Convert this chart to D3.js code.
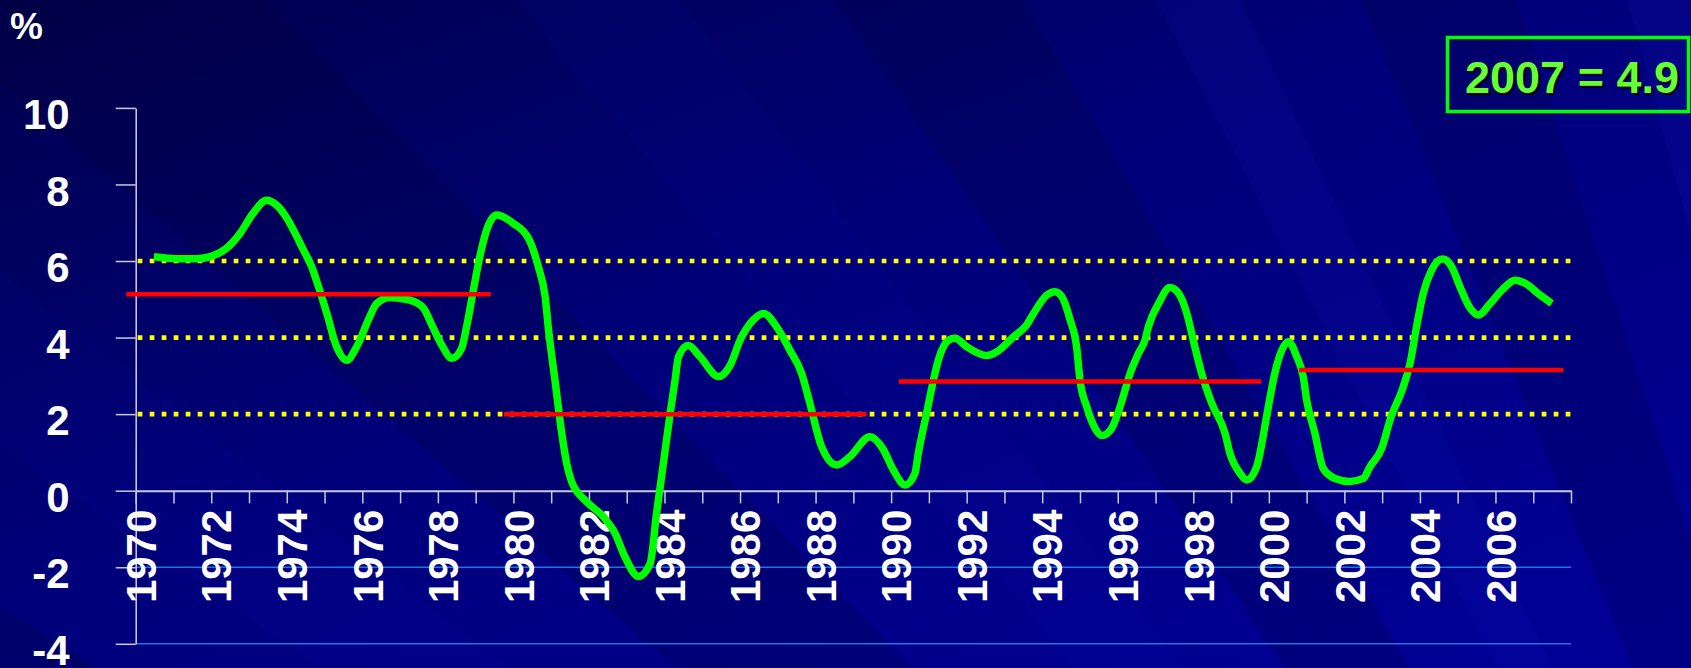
<!DOCTYPE html>
<html>
<head>
<meta charset="utf-8">
<script src="https://cdn.jsdelivr.net/npm/d3@7"></script>
<style>
	body { margin: 0; background: #000080; overflow: hidden; }
	svg { display: block; }
</style>
</head>
<body>
<svg id="chart"></svg>
<script>
const width = 1691;
const height = 668;

// growth, %
const years = [1970.48, 1971.09, 1971.6, 1972.23, 1972.58, 1972.76, 1973.11, 1973.47, 1973.73, 1973.95,
	1974.44, 1974.66, 1974.84, 1975.06, 1975.32, 1975.59, 1975.85, 1976.16, 1976.38, 1976.73,
	1977.26, 1977.62, 1977.84, 1978.1, 1978.37, 1978.63, 1978.76, 1978.94, 1979.11, 1979.29,
	1979.56, 1980.0, 1980.42, 1980.66, 1980.84, 1980.93, 1981.1, 1981.28, 1981.41, 1981.54,
	1981.94, 1982.38, 1982.69, 1982.95, 1983.31, 1983.62, 1983.79, 1983.97, 1984.15, 1984.28,
	1984.37, 1984.63, 1984.94, 1985.43, 1985.74, 1986.0, 1986.35, 1986.62, 1986.97, 1987.32,
	1987.63, 1987.85, 1988.16, 1988.56, 1988.91, 1989.44, 1989.78, 1990.06, 1990.37, 1990.63,
	1990.72, 1990.94, 1991.12, 1991.25, 1991.52, 1991.69, 1992.0, 1992.53, 1992.8, 1993.24,
	1993.59, 1993.77, 1994.12, 1994.34, 1994.52, 1994.74, 1994.91, 1995.0, 1995.18, 1995.4,
	1995.58, 1995.84, 1996.06, 1996.33, 1996.55, 1996.72, 1996.81, 1997.08, 1997.38, 1997.61,
	1997.83, 1998.0, 1998.22, 1998.49, 1998.84, 1998.97, 1999.24, 1999.42, 1999.68, 1999.77,
	1999.97, 2000.16, 2000.25, 2000.52, 2000.74, 2000.91, 2001.0, 2001.22, 2001.44, 2001.75,
	2002.15, 2002.5, 2002.68, 2002.99, 2003.21, 2003.56, 2003.74, 2003.91, 2004.09, 2004.31,
	2004.6, 2004.84, 2005.06, 2005.33, 2005.55, 2005.86, 2006.17, 2006.52, 2006.78, 2007.18,
	2007.49];
const growth = [6.11, 6.06, 6.06, 6.22, 6.5, 6.72, 7.25, 7.59, 7.46, 7.2,
	6.29, 5.85, 5.33, 4.63, 3.76, 3.41, 3.76, 4.46, 4.89, 5.05,
	4.98, 4.77, 4.33, 3.81, 3.46, 3.72, 4.28, 5.24, 6.11, 6.81,
	7.2, 6.98, 6.55, 5.85, 5.07, 4.2, 2.89, 1.5, 0.71, 0.24,
	-0.29, -0.68, -1.11, -1.72, -2.24, -1.9, -0.59, 0.71, 2.02, 2.89,
	3.5, 3.79, 3.5, 2.98, 3.28, 3.93, 4.46, 4.63, 4.28, 3.67,
	3.07, 2.28, 1.15, 0.67, 0.89, 1.41, 1.1, 0.54, 0.15, 0.45,
	0.98, 2.02, 2.89, 3.41, 3.93, 3.98, 3.76, 3.53, 3.63, 4.02,
	4.33, 4.63, 5.11, 5.2, 5.07, 4.46, 3.76, 2.89, 2.19, 1.63,
	1.44, 1.63, 2.19, 3.07, 3.59, 3.93, 4.28, 4.89, 5.31, 5.16,
	4.63, 3.93, 3.07, 2.28, 1.5, 0.98, 0.45, 0.28, 0.63, 1.0,
	2.1, 3.07, 3.41, 3.89, 3.5, 2.98, 2.37, 1.5, 0.58, 0.32,
	0.24, 0.32, 0.63, 1.11, 1.85, 2.72, 3.33, 4.28, 5.16, 5.76,
	6.05, 5.85, 5.33, 4.77, 4.59, 4.89, 5.24, 5.5, 5.42, 5.11,
	4.89];

// decade averages
const avgFrom = [1969.75, 1979.75, 1990.2, 2000.8];
const avgTo = [1979.4, 1989.35, 1999.8, 2007.8];
const avgValue = [5.13, 2.0, 2.85, 3.15];

const yTicks = [-4, -2, 0, 2, 4, 6, 8, 10];
const dottedLevels = [2, 4, 6];
const blueLevels = [-2, -4];
const yearTicks = [1970, 1971, 1972, 1973, 1974, 1975, 1976, 1977, 1978, 1979, 1980, 1981, 1982,
	1983, 1984, 1985, 1986, 1987, 1988, 1989, 1990, 1991, 1992, 1993, 1994, 1995, 1996, 1997,
	1998, 1999, 2000, 2001, 2002, 2003, 2004, 2005, 2006, 2007, 2008];
const yearLabels = [1970, 1972, 1974, 1976, 1978, 1980, 1982, 1984, 1986, 1988, 1990, 1992,
	1994, 1996, 1998, 2000, 2002, 2004, 2006];
const boxText = "2007 = 4.9";

const font = "'Liberation Sans', Arial, sans-serif";

let svg = d3.select("#chart")
	.attr("width", width)
	.attr("height", height);

// background
let defs = svg.append("defs");
let grad = defs.append("linearGradient")
	.attr("id", "bg")
	.attr("x1", 0).attr("y1", 0)
	.attr("x2", 1).attr("y2", 1);
grad.append("stop").attr("offset", "0%").attr("stop-color", "#00004c");
grad.append("stop").attr("offset", "45%").attr("stop-color", "#00007a");
grad.append("stop").attr("offset", "100%").attr("stop-color", "#000098");

svg.append("rect")
	.attr("width", width)
	.attr("height", height)
	.style("fill", "url(#bg)");

// faint streaks fanning out from lower right
const focus = [2150, 1950];
const bands = [
	[-152, -148, "#000030", 0.22],
	[-145, -142, "#1818d0", 0.05],
	[-139, -134, "#000030", 0.2],
	[-130, -127, "#1818d0", 0.06],
	[-124, -120, "#000030", 0.2],
	[-117, -115, "#2828e0", 0.08],
	[-112, -108, "#000030", 0.18],
	[-105, -103, "#2828e0", 0.09]
];
bands.forEach(function(b) {
	const r = 4000;
	const a1 = b[0] * Math.PI / 180;
	const a2 = b[1] * Math.PI / 180;
	const pts = [focus,
		[focus[0] + r * Math.cos(a1), focus[1] + r * Math.sin(a1)],
		[focus[0] + r * Math.cos(a2), focus[1] + r * Math.sin(a2)]];
	svg.append("polygon")
		.attr("points", pts.map(p => p.join(",")).join(" "))
		.style("fill", b[2])
		.style("opacity", b[3]);
});

let x = d3.scaleLinear()
	.domain([1970, 2008])
	.range([135.7, 1571]);
let y = d3.scaleLinear()
	.domain([-4, 10])
	.range([643.8, 107.9]);

// light blue lines below zero
svg.selectAll(".blueline")
	.data(blueLevels)
	.enter().append("line")
	.attr("x1", x(1970))
	.attr("x2", x(2008))
	.attr("y1", d => y(d))
	.attr("y2", d => y(d))
	.style("stroke", "#1e74e0")
	.style("stroke-width", 1.5);

// yellow dotted levels
svg.selectAll(".dotted")
	.data(dottedLevels)
	.enter().append("line")
	.attr("x1", x(1970) + 2)
	.attr("x2", x(2008))
	.attr("y1", d => y(d))
	.attr("y2", d => y(d))
	.style("stroke", "#ffff00")
	.style("stroke-width", 4.7)
	.style("stroke-dasharray", "4.7,7.3");

// y axis
let yAxis = svg.append("g")
	.attr("transform", `translate(${x(1970)},0)`)
	.call(d3.axisLeft(y)
		.tickValues(yTicks)
		.tickSize(20)
		.tickSizeOuter(0)
		.tickPadding(46)
		.tickFormat(d => d));
yAxis.select(".domain").style("stroke", "#d0d0e8").style("stroke-width", 1.5);
yAxis.selectAll(".tick line").style("stroke", "#c8c8e0").style("stroke-width", 1.5);
yAxis.selectAll("text")
	.attr("dy", "0.49em")
	.style("fill", "white")
	.style("font-family", font)
	.style("font-weight", "bold")
	.style("font-size", "42px");

// x axis on the zero line
let xAxis = svg.append("g")
	.attr("transform", `translate(0,${y(0)})`)
	.call(d3.axisBottom(x)
		.tickValues(yearTicks)
		.tickSize(12.7)
		.tickSizeOuter(0)
		.tickFormat(d => yearLabels.includes(d) ? d : ""));
xAxis.select(".domain").style("stroke", "#c8c8e0").style("stroke-width", 2);
xAxis.selectAll(".tick line").style("stroke", "#c8c8e0").style("stroke-width", 1.5);
xAxis.selectAll("text")
	.attr("transform", "rotate(-90)")
	.attr("text-anchor", "end")
	.attr("x", -19)
	.attr("y", 0)
	.attr("dy", "0.47em")
	.style("fill", "white")
	.style("font-family", font)
	.style("font-weight", "bold")
	.style("font-size", "42px");

// growth line
const line = d3.line()
	.x((d, i) => x(years[i]))
	.y(d => y(d))
	.curve(d3.curveMonotoneX);

svg.append("path")
	.attr("d", line(growth))
	.style("fill", "none")
	.style("stroke", "#00ff00")
	.style("stroke-width", 7.5)
	.style("stroke-linejoin", "round");

// decade averages
svg.selectAll(".avg")
	.data(avgValue)
	.enter().append("line")
	.attr("x1", (d, i) => x(avgFrom[i]))
	.attr("x2", (d, i) => x(avgTo[i]))
	.attr("y1", d => y(d))
	.attr("y2", d => y(d))
	.style("stroke", "#ff0000")
	.style("stroke-width", 4.5);

// unit label
svg.append("text")
	.attr("x", 10)
	.attr("y", 39)
	.text("%")
	.style("fill", "white")
	.style("font-family", font)
	.style("font-weight", "bold")
	.style("font-size", "37px");

// latest value box
svg.append("rect")
	.attr("x", 1447.5)
	.attr("y", 37.5)
	.attr("width", 241)
	.attr("height", 74)
	.style("fill", "none")
	.style("stroke", "#00ff00")
	.style("stroke-width", 3.5);

svg.append("text")
	.attr("x", 1574)
	.attr("y", 95)
	.attr("text-anchor", "middle")
	.text(boxText)
	.style("fill", "black")
	.style("font-family", font)
	.style("font-weight", "bold")
	.style("font-size", "45px");

svg.append("text")
	.attr("x", 1572)
	.attr("y", 93)
	.attr("text-anchor", "middle")
	.text(boxText)
	.style("fill", "#66ff33")
	.style("font-family", font)
	.style("font-weight", "bold")
	.style("font-size", "45px");
</script>
</body>
</html>
